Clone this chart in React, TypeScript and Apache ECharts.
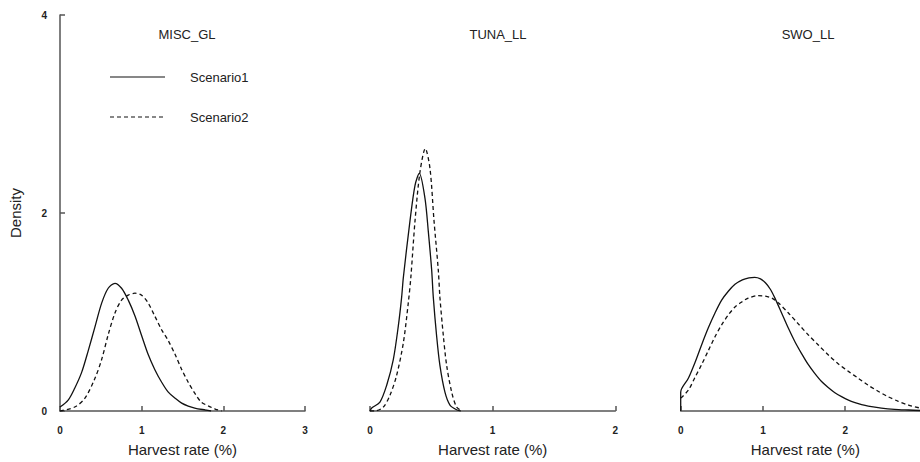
import React, { useEffect, useRef } from "react";
import * as echarts from "echarts";

const panelTitles = ["MISC_GL", "TUNA_LL", "SWO_LL"];
const legendNames = ["Scenario1", "Scenario2"];
const xAxisName = "Harvest rate (%)";
const yAxisName = "Density";

const miscScenario1 = [
  [0, 0.04], [0.1, 0.11], [0.18, 0.23], [0.265, 0.39], [0.346, 0.61], [0.428, 0.85],
  [0.51, 1.09], [0.59, 1.24], [0.673, 1.29], [0.754, 1.24], [0.836, 1.12], [0.918, 0.96],
  [1.0, 0.76], [1.08, 0.57], [1.16, 0.42], [1.245, 0.29], [1.326, 0.19], [1.41, 0.13],
  [1.49, 0.08], [1.57, 0.05], [1.65, 0.03], [1.78, 0.01], [1.85, 0],
];
const miscScenario2 = [
  [0, 0.0], [0.18, 0.04], [0.306, 0.13], [0.428, 0.33], [0.51, 0.52], [0.59, 0.77],
  [0.673, 0.99], [0.754, 1.12], [0.836, 1.17], [0.918, 1.19], [1.0, 1.17], [1.08, 1.09],
  [1.16, 0.96], [1.245, 0.82], [1.326, 0.71], [1.41, 0.57], [1.49, 0.42], [1.57, 0.29],
  [1.65, 0.18], [1.73, 0.09], [1.82, 0.05], [1.9, 0.02], [1.98, 0],
];
const tunaScenario1 = [
  [0, 0], [0.014, 0.03], [0.081, 0.09], [0.136, 0.26], [0.19, 0.52], [0.231, 0.86],
  [0.258, 1.15], [0.272, 1.35], [0.326, 1.92], [0.367, 2.28], [0.402, 2.4], [0.448, 2.15],
  [0.475, 1.82], [0.503, 1.42], [0.516, 1.15], [0.543, 0.76], [0.57, 0.46], [0.611, 0.19],
  [0.652, 0.06], [0.71, 0.01], [0.74, 0],
];
const tunaScenario2 = [
  [0, 0], [0.04, 0], [0.109, 0.04], [0.163, 0.16], [0.217, 0.36], [0.272, 0.69],
  [0.312, 1.09], [0.333, 1.35], [0.367, 1.92], [0.407, 2.41], [0.451, 2.65], [0.489, 2.45],
  [0.522, 1.92], [0.557, 1.42], [0.57, 1.15], [0.598, 0.76], [0.625, 0.46], [0.666, 0.19],
  [0.706, 0.04], [0.75, 0],
];
const swoScenario1 = [
  [0, 0], [0, 0.19], [0.093, 0.33], [0.174, 0.49], [0.255, 0.67], [0.336, 0.84],
  [0.417, 0.99], [0.498, 1.12], [0.579, 1.21], [0.66, 1.28], [0.75, 1.325], [0.83, 1.345],
  [0.9, 1.35], [0.97, 1.335], [1.03, 1.295], [1.09, 1.23], [1.146, 1.14], [1.227, 0.99],
  [1.307, 0.84], [1.389, 0.70], [1.47, 0.58], [1.55, 0.47], [1.63, 0.38], [1.71, 0.30],
  [1.79, 0.24], [1.875, 0.185], [1.956, 0.145], [2.04, 0.11], [2.12, 0.085], [2.2, 0.065],
  [2.28, 0.05], [2.44, 0.03], [2.6, 0.017], [2.77, 0.01], [2.91, 0.005],
];
const swoScenario2 = [
  [0, 0.13], [0.093, 0.21], [0.174, 0.34], [0.255, 0.47], [0.336, 0.61], [0.417, 0.75],
  [0.498, 0.87], [0.579, 0.97], [0.66, 1.05], [0.74, 1.1], [0.82, 1.14], [0.94, 1.165],
  [1.03, 1.16], [1.11, 1.14], [1.19, 1.09], [1.31, 0.99], [1.43, 0.88], [1.55, 0.77],
  [1.67, 0.67], [1.79, 0.57], [1.91, 0.48], [2.04, 0.40], [2.16, 0.33], [2.28, 0.26],
  [2.4, 0.2], [2.52, 0.145], [2.64, 0.1], [2.77, 0.06], [2.91, 0.03],
];
const xMaxes = [3, 2, 2.91];
const yMax = 4;

const FONT = "Liberation Sans, Arial, sans-serif";
const AXIS_COLOR = "#555";
const TEXT_COLOR = "#222";
const LINE_COLOR = "#111";

export default function App() {
  const ref = useRef<HTMLDivElement>(null);
  useEffect(() => {
    if (!ref.current) return;
    document.body.style.margin = "0";
    document.body.style.overflow = "hidden";
    const chart = echarts.init(ref.current, null, { renderer: "svg" });
    const grids = [
      { left: 60, top: 15, width: 245, height: 401 },
      { left: 370, top: 15, width: 245.3, height: 401 },
      { left: 680.7, top: 15, width: 239.3, height: 401 },
    ];
    const xAxes = xMaxes.map((mx, i) => ({
      type: "value",
      gridIndex: i,
      min: 0,
      max: mx,
      interval: 1,
      splitLine: { show: false },
      axisLine: { show: true, onZero: false, lineStyle: { color: AXIS_COLOR, width: 1.5 } },
      axisTick: { show: true, inside: true, length: 5, lineStyle: { color: AXIS_COLOR, width: 1.5 } },
      axisLabel: {
        margin: 14,
        fontSize: 10,
        fontWeight: "bold",
        color: TEXT_COLOR,
        fontFamily: FONT,
        showMaxLabel: i !== 2,
        formatter: (v: number) => (Number.isInteger(v) ? String(v) : ""),
      },
      name: xAxisName,
      nameLocation: "middle",
      nameGap: 31,
      nameTextStyle: {
        fontSize: 15,
        color: TEXT_COLOR,
        fontFamily: FONT,
        padding: i === 2 ? [0, 0, 0, 10] : 0,
      },
    }));
    const yAxes = [0, 1, 2].map((i) => ({
      type: "value",
      gridIndex: i,
      min: 0,
      max: yMax,
      interval: 2,
      show: i === 0,
      splitLine: { show: false },
      axisLine: { show: true, lineStyle: { color: AXIS_COLOR, width: 1.5 } },
      axisTick: { show: true, inside: true, length: 5, lineStyle: { color: AXIS_COLOR, width: 1.5 } },
      axisLabel: { margin: 13, fontSize: 10, fontWeight: "bold", color: TEXT_COLOR, fontFamily: FONT },
      name: i === 0 ? yAxisName : "",
      nameLocation: "middle",
      nameGap: 37,
      nameRotate: 90,
      nameTextStyle: { fontSize: 15, color: TEXT_COLOR, fontFamily: FONT },
    }));
    const curves = [
      [miscScenario1, miscScenario2],
      [tunaScenario1, tunaScenario2],
      [swoScenario1, swoScenario2],
    ];
    const series: any[] = [];
    curves.forEach((pair, i) => {
      pair.forEach((data, k) => {
        series.push({
          type: "line",
          name: legendNames[k],
          xAxisIndex: i,
          yAxisIndex: i,
          data,
          smooth: 0.3,
          showSymbol: false,
          symbol: "none",
          lineStyle: { color: LINE_COLOR, width: 1.3, type: k === 0 ? "solid" : [4, 3] },
        });
      });
    });
    const titleCenters = [187, 498, 808];
    chart.setOption({
      animation: false,
      backgroundColor: "#fff",
      title: panelTitles.map((t, i) => ({
        text: t,
        left: titleCenters[i],
        top: 28,
        padding: 0,
        textAlign: "center",
        textStyle: { fontSize: 13, fontWeight: "normal", color: TEXT_COLOR, fontFamily: FONT },
      })),
      grid: grids,
      xAxis: xAxes,
      yAxis: yAxes,
      series,
      graphic: [
        { type: "line", shape: { x1: 110, y1: 77, x2: 165, y2: 77 }, style: { stroke: LINE_COLOR, lineWidth: 1.2 } },
        { type: "line", shape: { x1: 110, y1: 117, x2: 165, y2: 117 }, style: { stroke: LINE_COLOR, lineWidth: 1.2, lineDash: [4, 3] } },
        { type: "text", x: 190, y: 77, style: { text: legendNames[0], fontSize: 13, fill: TEXT_COLOR, fontFamily: FONT, verticalAlign: "middle" } },
        { type: "text", x: 190, y: 117, style: { text: legendNames[1], fontSize: 13, fill: TEXT_COLOR, fontFamily: FONT, verticalAlign: "middle" } },
      ],
    });
    return () => chart.dispose();
  }, []);
  return <div ref={ref} style={{ width: 920, height: 462 }} />;
}
